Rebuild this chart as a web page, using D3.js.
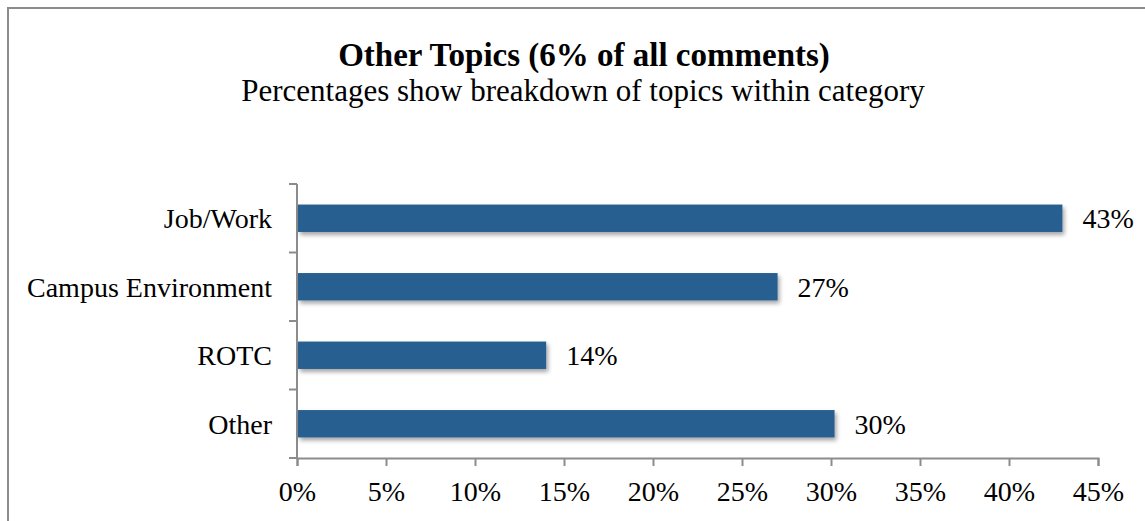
<!DOCTYPE html>
<html>
<head>
<meta charset="utf-8">
<script src="https://cdn.jsdelivr.net/npm/d3@7"></script>
<style>
  body { margin: 0; background: #fff; }
  svg text { font-family: "Liberation Serif", "DejaVu Serif", serif; fill: #000; }
</style>
</head>
<body>
<svg id="chart" width="1145" height="521"></svg>
<script>
// chart data
const categories = ['Job/Work', 'Campus Environment', 'ROTC', 'Other'];
const values = [43, 27, 14, 30.2];
const valueLabels = ['43%', '27%', '14%', '30%'];
const xTicks = [0, 5, 10, 15, 20, 25, 30, 35, 40, 45];

const titleText = 'Other Topics (6% of all comments)';
const subtitleText = 'Percentages show breakdown of topics within category';

const svg = d3.select('#chart');

// outer frame
svg.append('rect')
    .attr('x', 8).attr('y', 8)
    .attr('width', 1145).attr('height', 530)
    .attr('fill', 'none')
    .attr('stroke', '#8c8c8c')
    .attr('stroke-width', 2);

// soft shadow under bars
const defs = svg.append('defs');
const shadow = defs.append('filter')
    .attr('id', 'barShadow')
    .attr('x', '-5%').attr('y', '-20%')
    .attr('width', '110%').attr('height', '160%');
shadow.append('feDropShadow')
    .attr('dx', 2).attr('dy', 3)
    .attr('stdDeviation', 2)
    .attr('flood-color', '#000')
    .attr('flood-opacity', 0.35);

svg.append('text')
    .attr('x', 584).attr('y', 66)
    .attr('text-anchor', 'middle')
    .style('font-size', '33px')
    .style('font-weight', 'bold')
    .text(titleText);

svg.append('text')
    .attr('x', 583).attr('y', 101)
    .attr('text-anchor', 'middle')
    .style('font-size', '31px')
    .text(subtitleText);

const x = d3.scaleLinear()
    .domain([0, 45])
    .range([297, 1098]);

const y = d3.scaleBand()
    .domain(categories)
    .range([184, 458])
    .paddingInner(0.6)
    .paddingOuter(0.3);

const axisColor = '#8c8c8c';

// category boundary ticks on the y axis
const bounds = d3.range(categories.length + 1)
    .map(i => 184 + i * (458 - 184) / categories.length);

const yAxis = svg.append('g');
yAxis.append('line')
    .attr('x1', x(0)).attr('x2', x(0))
    .attr('y1', 184).attr('y2', 458)
    .attr('stroke', axisColor).attr('stroke-width', 2);
yAxis.selectAll('line.tick')
    .data(bounds)
    .join('line')
    .attr('class', 'tick')
    .attr('x1', x(0) - 8).attr('x2', x(0))
    .attr('y1', d => d).attr('y2', d => d)
    .attr('stroke', axisColor).attr('stroke-width', 2);
yAxis.selectAll('text')
    .data(categories)
    .join('text')
    .attr('x', 272)
    .attr('y', d => y(d) + y.bandwidth() / 2)
    .attr('dy', '0.35em')
    .attr('text-anchor', 'end')
    .style('font-size', '28px')
    .text(d => d);

// x axis
const xAxis = svg.append('g')
    .attr('transform', 'translate(0,458)')
    .call(d3.axisBottom(x)
        .tickValues(xTicks)
        .tickSize(8)
        .tickPadding(15)
        .tickFormat(d => d + '%'));
xAxis.select('.domain')
    .attr('stroke', axisColor).attr('stroke-width', 2);
xAxis.selectAll('.tick line')
    .attr('stroke', axisColor).attr('stroke-width', 2);
xAxis.selectAll('.tick text')
    .style('font-size', '28px')
    .attr('fill', '#000');

// bars
svg.append('g')
    .selectAll('rect')
    .data(categories)
    .join('rect')
    .attr('x', x(0) + 1)
    .attr('y', d => y(d))
    .attr('width', (d, i) => x(values[i]) - x(0) - 1)
    .attr('height', y.bandwidth())
    .attr('fill', '#285e90')
    .attr('filter', 'url(#barShadow)');

// value labels
svg.append('g')
    .selectAll('text')
    .data(categories)
    .join('text')
    .attr('x', (d, i) => x(values[i]) + 20)
    .attr('y', d => y(d) + y.bandwidth() / 2)
    .attr('dy', '0.35em')
    .style('font-size', '28px')
    .text((d, i) => valueLabels[i]);
</script>
</body>
</html>
